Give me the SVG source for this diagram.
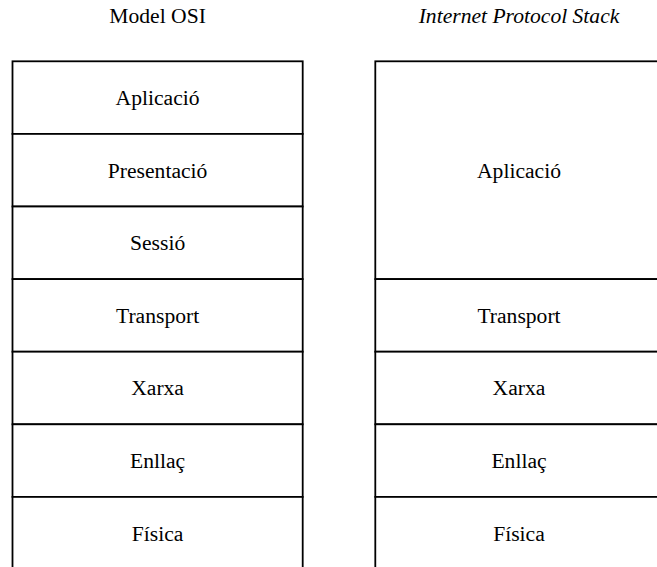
<svg xmlns="http://www.w3.org/2000/svg" width="657" height="567" viewBox="0 0 657 567">
  <rect width="657" height="567" fill="#fff"/>

  <!-- shared look: white boxes with black outline, serif labels centred -->
  <g fill="#fff" stroke="#000" stroke-width="1.8">
    <!-- column titles -->
    <g stroke="none" fill="#000">
      <text x="157.6" y="23.3" font-family="Liberation Serif" font-size="21.6" text-anchor="middle">Model OSI</text>
      <text x="519" y="23.3" font-family="Liberation Serif" font-size="21.6" font-style="italic" text-anchor="middle">Internet Protocol Stack</text>
    </g>

    <!-- OSI model layers -->
    <g id="osi-aplicacio"><rect x="12.5" y="61.3" width="290.2" height="72.6"/><text x="157.6" y="105" stroke="none" fill="#000" font-family="Liberation Serif" font-size="21.6" text-anchor="middle">Aplicació</text></g>
    <g id="osi-presentacio"><rect x="12.5" y="133.9" width="290.2" height="72.6"/><text x="157.6" y="177.6" stroke="none" fill="#000" font-family="Liberation Serif" font-size="21.6" text-anchor="middle">Presentació</text></g>
    <g id="osi-sessio"><rect x="12.5" y="206.5" width="290.2" height="72.6"/><text x="157.6" y="250.2" stroke="none" fill="#000" font-family="Liberation Serif" font-size="21.6" text-anchor="middle">Sessió</text></g>
    <g id="osi-transport"><rect x="12.5" y="279.1" width="290.2" height="72.6"/><text x="157.6" y="322.8" stroke="none" fill="#000" font-family="Liberation Serif" font-size="21.6" text-anchor="middle">Transport</text></g>
    <g id="osi-xarxa"><rect x="12.5" y="351.7" width="290.2" height="72.6"/><text x="157.6" y="395.4" stroke="none" fill="#000" font-family="Liberation Serif" font-size="21.6" text-anchor="middle">Xarxa</text></g>
    <g id="osi-enllac"><rect x="12.5" y="424.3" width="290.2" height="72.6"/><text x="157.6" y="468" stroke="none" fill="#000" font-family="Liberation Serif" font-size="21.6" text-anchor="middle">Enllaç</text></g>
    <g id="osi-fisica"><rect x="12.5" y="496.9" width="290.2" height="72.6"/><text x="157.6" y="540.6" stroke="none" fill="#000" font-family="Liberation Serif" font-size="21.6" text-anchor="middle">Física</text></g>

    <!-- Internet protocol stack layers -->
    <g id="ip-aplicacio"><rect x="375.3" y="61.3" width="288" height="217.8"/><text x="519" y="177.6" stroke="none" fill="#000" font-family="Liberation Serif" font-size="21.6" text-anchor="middle">Aplicació</text></g>
    <g id="ip-transport"><rect x="375.3" y="279.1" width="288" height="72.6"/><text x="519" y="322.8" stroke="none" fill="#000" font-family="Liberation Serif" font-size="21.6" text-anchor="middle">Transport</text></g>
    <g id="ip-xarxa"><rect x="375.3" y="351.7" width="288" height="72.6"/><text x="519" y="395.4" stroke="none" fill="#000" font-family="Liberation Serif" font-size="21.6" text-anchor="middle">Xarxa</text></g>
    <g id="ip-enllac"><rect x="375.3" y="424.3" width="288" height="72.6"/><text x="519" y="468" stroke="none" fill="#000" font-family="Liberation Serif" font-size="21.6" text-anchor="middle">Enllaç</text></g>
    <g id="ip-fisica"><rect x="375.3" y="496.9" width="288" height="72.6"/><text x="519" y="540.6" stroke="none" fill="#000" font-family="Liberation Serif" font-size="21.6" text-anchor="middle">Física</text></g>
  </g>

  <g id="connectors"/>
</svg>
